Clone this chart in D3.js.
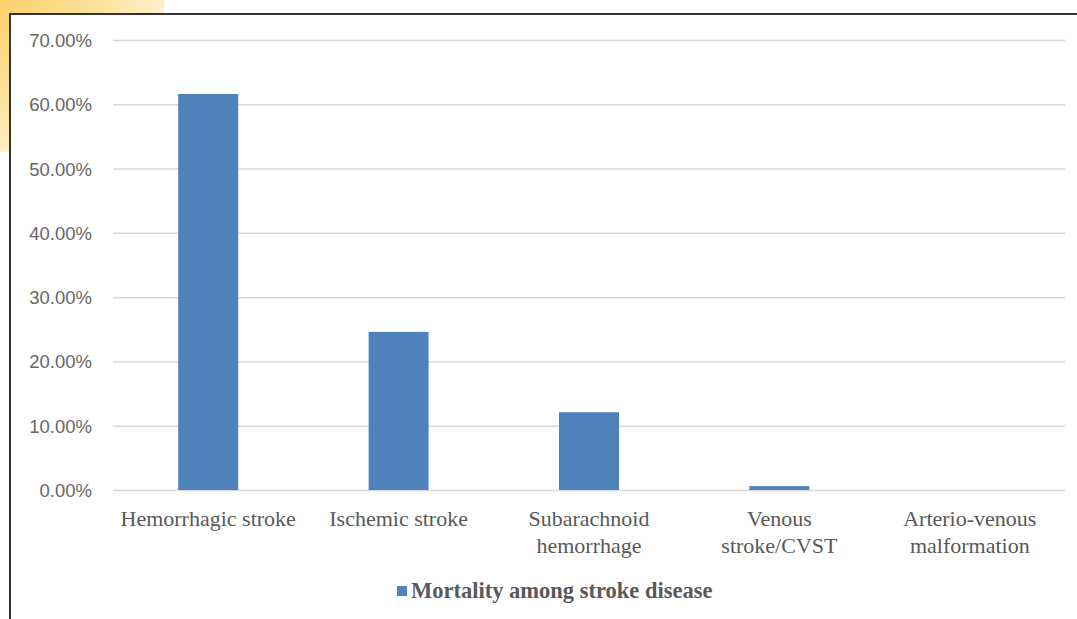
<!DOCTYPE html>
<meta charset="utf-8">
<style>
  body { margin: 0; background: #fff; }
  .tick text { font: 18.5px "Liberation Sans", sans-serif; fill: #666; }
  .cat { font: 22px "Liberation Serif", serif; fill: #595959; }
  .legend { font: bold 22.5px "Liberation Serif", serif; fill: #595959; }
</style>
<svg width="1077" height="619"></svg>
<script src="https://d3js.org/d3.v7.min.js"></script>
<script>

var categories = ["Hemorrhagic stroke", "Ischemic stroke", "Subarachnoid hemorrhage", "Venous stroke/CVST", "Arterio-venous malformation"];
var catLines = [["Hemorrhagic stroke"], ["Ischemic stroke"], ["Subarachnoid", "hemorrhage"], ["Venous", "stroke/CVST"], ["Arterio-venous", "malformation"]];
var mortality = [0.616, 0.246, 0.121, 0.006, 0];
var yTicks = [0, 0.1, 0.2, 0.3, 0.4, 0.5, 0.6, 0.7];
var seriesName = "Mortality among stroke disease";

var svg = d3.select("svg");

// yellow corner decoration behind the chart frame
var defs = svg.append("defs");
var grad = defs.append("radialGradient").attr("id", "corner")
    .attr("gradientUnits", "userSpaceOnUse")
    .attr("cx", 0).attr("cy", 0).attr("r", 170);
grad.append("stop").attr("offset", "0%").attr("stop-color", "#fbd06a");
grad.append("stop").attr("offset", "70%").attr("stop-color", "#fde6a8");
grad.append("stop").attr("offset", "100%").attr("stop-color", "#fff2d2");
svg.append("ellipse").attr("cx", 0).attr("cy", -8).attr("rx", 165).attr("ry", 160).attr("fill", "url(#corner)");

svg.append("rect").attr("x", 10).attr("y", 14).attr("width", 1080).attr("height", 620)
    .attr("fill", "#fff").attr("stroke", "#333").attr("stroke-width", 2);

var x = d3.scaleBand().domain(categories).range([113, 1065]).paddingInner(0.685).paddingOuter(0.3425);
var y = d3.scaleLinear().domain([0, 0.7]).range([490, 40]);

var yAxis = svg.append("g").attr("transform", "translate(113,0)")
    .call(d3.axisLeft(y).tickValues(yTicks).tickFormat(d3.format(".2%")).tickSize(-952).tickPadding(21));
yAxis.select(".domain").remove();
yAxis.selectAll(".tick line").attr("stroke", "#d9d9d9").attr("stroke-width", 1.5);
yAxis.selectAll(".tick text").attr("dy", "0.35em");

svg.selectAll(".bar")
    .data(mortality)
    .enter().append("rect")
    .attr("class", "bar")
    .attr("x", function(d, i) { return x(categories[i]); })
    .attr("y", function(d) { return y(d); })
    .attr("width", x.bandwidth())
    .attr("height", function(d) { return y(0) - y(d); })
    .attr("fill", "#4f81bd");

var labels = svg.selectAll(".cat")
    .data(catLines)
    .enter().append("text")
    .attr("class", "cat")
    .attr("text-anchor", "middle")
    .attr("x", function(d, i) { return x(categories[i]) + x.bandwidth() / 2; })
    .attr("y", 526);
labels.selectAll("tspan")
    .data(function(d, i) { return d.map(function(t) { return { t: t, x: x(categories[i]) + x.bandwidth() / 2 }; }); })
    .enter().append("tspan")
    .attr("x", function(d) { return d.x; })
    .attr("dy", function(d, j) { return j ? 27 : 0; })
    .text(function(d) { return d.t; });

var legend = svg.append("g");
legend.append("rect").attr("x", 397).attr("y", 586).attr("width", 10).attr("height", 10).attr("fill", "#4f81bd");
legend.append("text").attr("class", "legend").attr("x", 411).attr("y", 598).text(seriesName);

</script>
